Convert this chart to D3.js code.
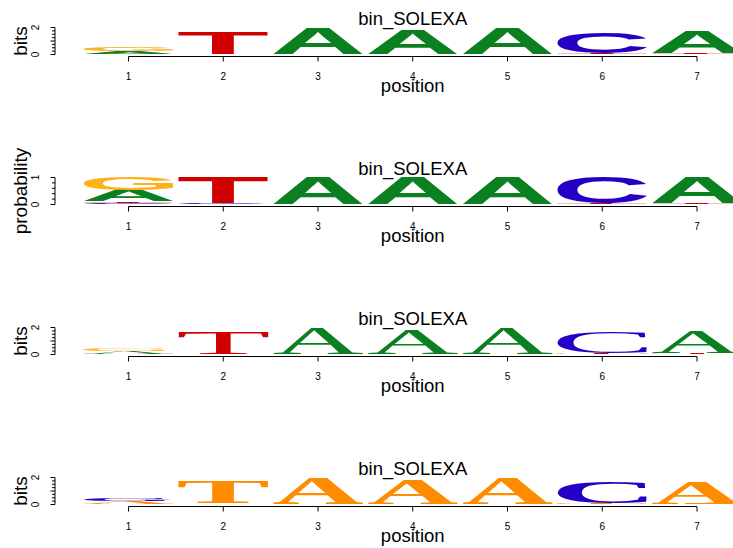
<!DOCTYPE html>
<html>
<head>
<meta charset="utf-8">
<script src="https://cdn.jsdelivr.net/npm/d3@7"></script>
<style>
body { margin: 0; background: #fff; }
svg { display: block; }
text { font-family: "Liberation Sans", Arial, sans-serif; fill: #000; }
</style>
</head>
<body>
<svg width="733" height="548"></svg>
<script>
// motif: probability of each base at each position
var positions = [1, 2, 3, 4, 5, 6, 7];
var bases = ["A", "C", "G", "T"];
var probA = [0.42, 0.01, 0.995, 0.98, 0.995, 0.01, 0.96];
var probC = [0.05, 0.02, 0.002, 0.007, 0.002, 0.95, 0.005];
var probG = [0.47, 0.01, 0.0015, 0.003, 0.0015, 0.005, 0.005];
var probT = [0.06, 0.96, 0.0015, 0.01, 0.0015, 0.035, 0.03];
var motifName = "bin_SOLEXA";

var svg = d3.select("svg");
var canvas = document.createElement("canvas");
var ctx = canvas.getContext("2d");

var panels = [
	{ ylab: "bits", ic: true, family: "Liberation Sans", weight: "bold",
	  colors: { A: "#0b8020", C: "#2400c6", G: "#ffb11a", T: "#d10000" } },
	{ ylab: "probability", ic: false, family: "Liberation Sans", weight: "bold",
	  colors: { A: "#0b8020", C: "#2400c6", G: "#ffb11a", T: "#d10000" } },
	{ ylab: "bits", ic: true, family: "Liberation Serif", weight: "normal",
	  colors: { A: "#0b8020", C: "#2400c6", G: "#ffb11a", T: "#d10000" } },
	{ ylab: "bits", ic: true, family: "Liberation Serif", weight: "bold",
	  colors: { A: "#ff8c00", C: "#2400c6", G: "#2400c6", T: "#ff8c00" } }
];

function columnProbs(i) {
	return { A: probA[i], C: probC[i], G: probG[i], T: probT[i] };
}

function infoContent(p) {
	var h = 0;
	bases.forEach(function(b) {
		if (p[b] > 0) h -= p[b] * Math.log2(p[b]);
	});
	return 2 - h;
}

function inkBox(ch, font) {
	ctx.font = font;
	var m = ctx.measureText(ch);
	return { l: m.actualBoundingBoxLeft, r: m.actualBoundingBoxRight,
		a: m.actualBoundingBoxAscent, d: m.actualBoundingBoxDescent };
}

var x = d3.scaleLinear().domain([1, 7]).range([128.5, 697]);
var step = x(2) - x(1);
var letterW = step * 0.95;

function drawPanel(cfg, k) {
	var off = k * 150;
	var g = svg.append("g").attr("transform", "translate(0," + off + ")");
	var ymax = cfg.ic ? 2 : 1;
	var y = d3.scaleLinear().domain([0, ymax]).range([54.5, 27.5]);
	var font = cfg.weight + " 200px \"" + cfg.family + "\"";

	// letters
	positions.forEach(function(pos, i) {
		var p = columnProbs(i);
		var scale = cfg.ic ? infoContent(p) : 1;
		var order = bases.slice().sort(function(a, b) { return p[a] - p[b]; });
		var acc = 0;
		order.forEach(function(b) {
			var h0 = acc, h1 = acc + p[b] * scale;
			acc = h1;
			var hpx = y(h0) - y(h1);
			if (hpx < 0.05) return;
			var box = inkBox(b, font);
			var sx = letterW / (box.l + box.r);
			var sy = hpx / (box.a + box.d);
			var x0 = x(pos) - letterW / 2;
			g.append("text")
				.attr("class", "letter")
				.attr("transform", "translate(" + (x0 + sx * box.l) + "," + (y(h1) + sy * box.a) + ") scale(" + sx + "," + sy + ")")
				.style("font-family", "\"" + cfg.family + "\"")
				.style("font-weight", cfg.weight)
				.style("font-size", "200px")
				.style("fill", cfg.colors[b])
				.text(b);
		});
	});

	// x axis
	g.append("line")
		.attr("x1", x(1)).attr("x2", x(7))
		.attr("y1", 56.5).attr("y2", 56.5)
		.attr("stroke", "#000").attr("stroke-width", 1);
	positions.forEach(function(pos) {
		g.append("line")
			.attr("x1", x(pos)).attr("x2", x(pos))
			.attr("y1", 56.5).attr("y2", 61.5)
			.attr("stroke", "#000");
		g.append("text")
			.attr("x", x(pos)).attr("y", 80)
			.attr("text-anchor", "middle")
			.style("font-size", "10px")
			.text(pos);
	});

	// y axis
	g.append("line")
		.attr("x1", 55).attr("x2", 55)
		.attr("y1", y(0)).attr("y2", y(ymax))
		.attr("stroke", "#000");
	var minor = cfg.ic ? 0.25 : 0.2;
	d3.range(0, ymax + 1e-6, minor).forEach(function(t) {
		var major = Math.abs(t - Math.round(t)) < 1e-6;
		g.append("line")
			.attr("x1", 55).attr("x2", major ? 50.5 : 52)
			.attr("y1", y(t)).attr("y2", y(t))
			.attr("stroke", "#000");
	});
	[0, ymax].forEach(function(t) {
		g.append("text")
			.attr("transform", "translate(38.5," + y(t) + ") rotate(-90)")
			.attr("text-anchor", "middle")
			.style("font-size", "10px")
			.text(t);
	});

	// labels
	g.append("text")
		.attr("transform", "translate(27," + (y(0) + y(ymax)) / 2 + ") rotate(-90)")
		.attr("text-anchor", "middle")
		.style("font-size", "19px")
		.text(cfg.ylab);
	g.append("text")
		.attr("x", (x(1) + x(7)) / 2).attr("y", 25)
		.attr("text-anchor", "middle")
		.style("font-size", "18.5px")
		.text(motifName);
	g.append("text")
		.attr("x", (x(1) + x(7)) / 2).attr("y", 92)
		.attr("text-anchor", "middle")
		.style("font-size", "18.5px")
		.text("position");
}

panels.forEach(drawPanel);
</script>
</body>
</html>
